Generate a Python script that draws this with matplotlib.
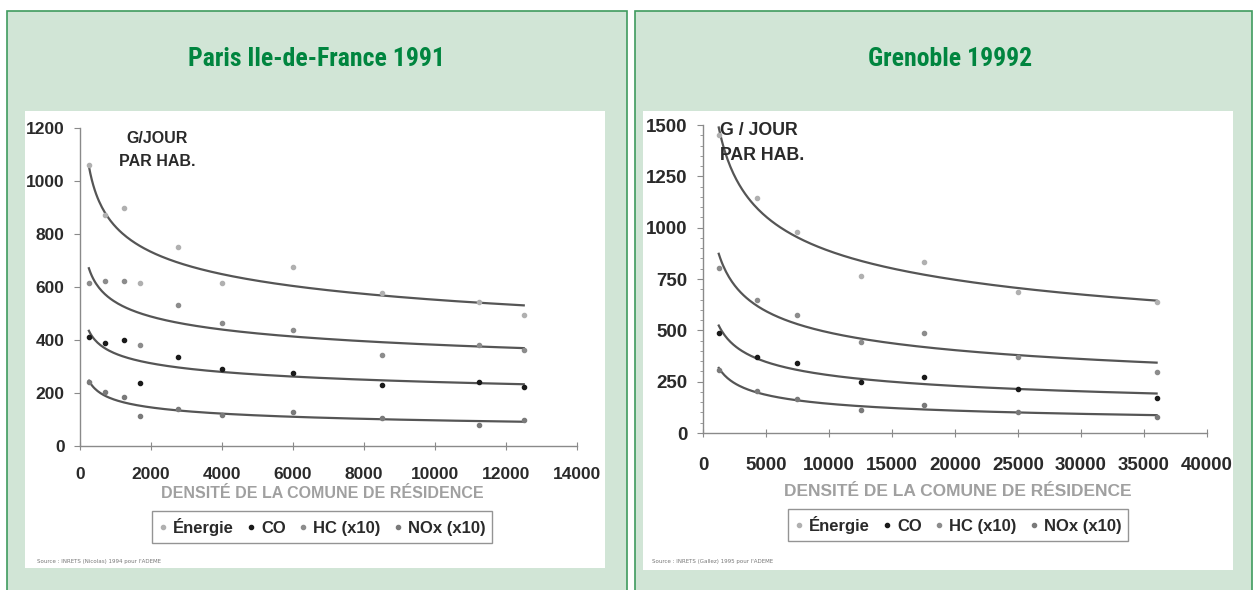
import matplotlib.pyplot as plt
from matplotlib.patches import Rectangle
from matplotlib.lines import Line2D
import numpy as np

W, H = 1257, 590

# ===== DATA =====
series_names = ['Énergie', 'CO', 'HC (x10)', 'NOx (x10)']

paris_density = [250, 700, 1250, 1700, 2750, 4000, 6000, 8500, 11250, 12500]
paris_energie = [1060, 870, 900, 614, 750, 614, 677, 577, 545, 494]
paris_co = [412, 390, 400, 239, 335, 290, 275, 230, 243, 224]
paris_hc = [614, 623, 623, 381, 532, 463, 438, 343, 381, 362]
paris_nox = [243, 205, 186, 113, 140, 117, 130, 106, 79, 98]

gre_density = [1250, 4250, 7500, 12500, 17500, 25000, 36000]
gre_energie = [1451, 1143, 981, 766, 835, 688, 640]
gre_co = [486, 372, 339, 250, 274, 213, 169]
gre_hc = [802, 648, 575, 445, 486, 372, 299]
gre_nox = [307, 205, 165, 112, 136, 104, 79]

marker_colors = ['#b0b0b0', '#1a1a1a', '#8c8c8c', '#7a7a7a']
LINE_COL = '#555555'
BG = '#d1e5d6'
BORDER = '#3f9b5f'
TITLE_COL = '#00853f'
TXT = '#2a2a2a'


def fr(x0, y0, x1, y1):
    # pixel box -> figure fraction rect
    return [x0 / W, 1 - y1 / H, (x1 - x0) / W, (y1 - y0) / H]


fig = plt.figure(figsize=(W / 100, H / 100), dpi=100)
fig.patch.set_facecolor('white')

for box in [(7, 11, 627, 600), (635, 11, 1252, 600)]:
    r = fr(*box)
    fig.add_artist(Rectangle((r[0], r[1]), r[2], r[3], transform=fig.transFigure,
                             facecolor=BG, edgecolor=BORDER, lw=1.2, zorder=-3))
for box in [(25, 111, 605, 568), (643, 111, 1233, 570)]:
    r = fr(*box)
    fig.add_artist(Rectangle((r[0], r[1]), r[2], r[3], transform=fig.transFigure,
                             facecolor='white', edgecolor='none', zorder=-2))

title_font = ['Roboto Condensed', 'Roboto']
fig.text(316 / W, 1 - 59 / H, 'Paris Ile-de-France 1991', ha='center', va='center',
         color=TITLE_COL, fontsize=18.5, fontweight='bold', family=title_font)
fig.text(950 / W, 1 - 59 / H, 'Grenoble 19992', ha='center', va='center',
         color=TITLE_COL, fontsize=18.5, fontweight='bold', family=title_font)


def panel(rect, dens, ys, xmax, xstep, ymax, ystep, tfs, xpad):
    ax = fig.add_axes(rect)
    ax.set_facecolor('none')
    for s in ['top', 'right']:
        ax.spines[s].set_visible(False)
    for s in ['left', 'bottom']:
        ax.spines[s].set_color('#8a8a8a')
        ax.spines[s].set_linewidth(1.0)
    ax.set_xlim(0, xmax)
    ax.set_ylim(0, ymax)
    ax.set_xticks(np.arange(0, xmax + 1, xstep))
    ax.set_yticks(np.arange(0, ymax + 1, ystep))
    ax.tick_params(axis='x', direction='inout', length=6, color='#8a8a8a', pad=xpad)
    ax.tick_params(axis='y', direction='out', length=4, color='#8a8a8a', pad=7)
    for lab in ax.get_xticklabels() + ax.get_yticklabels():
        lab.set_fontsize(tfs)
        lab.set_fontweight('bold')
        lab.set_color(TXT)
        lab.set_family('Liberation Sans')
    x = np.array(dens, dtype=float)
    for vals, col in zip(ys, marker_colors):
        y = np.array(vals, dtype=float)
        # power trendline fitted on the points
        b, a = np.polyfit(np.log(x), np.log(y), 1)
        xx = np.linspace(x.min(), x.max(), 300)
        ax.plot(xx, np.exp(a) * xx ** b, color=LINE_COL, lw=1.6, zorder=2)
        ax.plot(x, y, 'o', ms=3.0, color=col, zorder=3)
    return ax


ax1 = panel(fr(80, 128, 577, 446), paris_density,
            [paris_energie, paris_co, paris_hc, paris_nox],
            14000, 2000, 1200, 200, 12.5, 12)
ax2 = panel(fr(703, 125, 1207, 433), gre_density,
            [gre_energie, gre_co, gre_hc, gre_nox],
            40000, 5000, 1500, 250, 13.5, 14)
ax2.set_yticks(np.arange(0, 1501, 50), minor=True)
ax2.tick_params(axis='y', which='minor', length=2, color='#8a8a8a')

fig.text(157 / W, 1 - 150 / H, 'G/JOUR\nPAR HAB.', ha='center', va='center',
         fontsize=11.5, fontweight='bold', color=TXT, family='Liberation Sans', linespacing=1.7)
fig.text(720 / W, 1 - 143 / H, 'G / JOUR\nPAR HAB.', ha='left', va='center',
         fontsize=12.8, fontweight='bold', color=TXT, family='Liberation Sans', linespacing=1.6)

fig.text(322 / W, 1 - 493 / H, 'DENSITÉ DE LA COMUNE DE RÉSIDENCE', ha='center', va='center',
         fontsize=11.5, fontweight='bold', color='#a0a0a0', family='Liberation Sans')
fig.text(958 / W, 1 - 491 / H, 'DENSITÉ DE LA COMUNE DE RÉSIDENCE', ha='center', va='center',
         fontsize=12.5, fontweight='bold', color='#a0a0a0', family='Liberation Sans')

handles = [Line2D([], [], ls='none', marker='o', ms=3.0, color=c) for c in marker_colors]
for ax, cx, cy in [(ax1, 322, 527), (ax2, 958, 525)]:
    leg = ax.legend(handles, series_names, ncol=4, loc='center',
                    bbox_to_anchor=(cx / W, 1 - cy / H), bbox_transform=fig.transFigure,
                    frameon=True, fancybox=False, handlelength=0.5, handletextpad=0.35,
                    columnspacing=0.8, borderpad=0.4,
                    prop={'family': 'Liberation Sans', 'weight': 'bold', 'size': 12})
    leg.get_frame().set_edgecolor('#7a7a7a')
    leg.get_frame().set_linewidth(1.0)
    for t in leg.get_texts():
        t.set_color(TXT)

fig.text(37 / W, 1 - 561 / H, "Source : INRETS (Nicolas) 1994 pour l'ADEME", fontsize=4,
         color='#777777', va='center')
fig.text(652 / W, 1 - 561 / H, "Source : INRETS (Gallez) 1995 pour l'ADEME", fontsize=4,
         color='#777777', va='center')

fig.savefig('out.png', dpi=100)
